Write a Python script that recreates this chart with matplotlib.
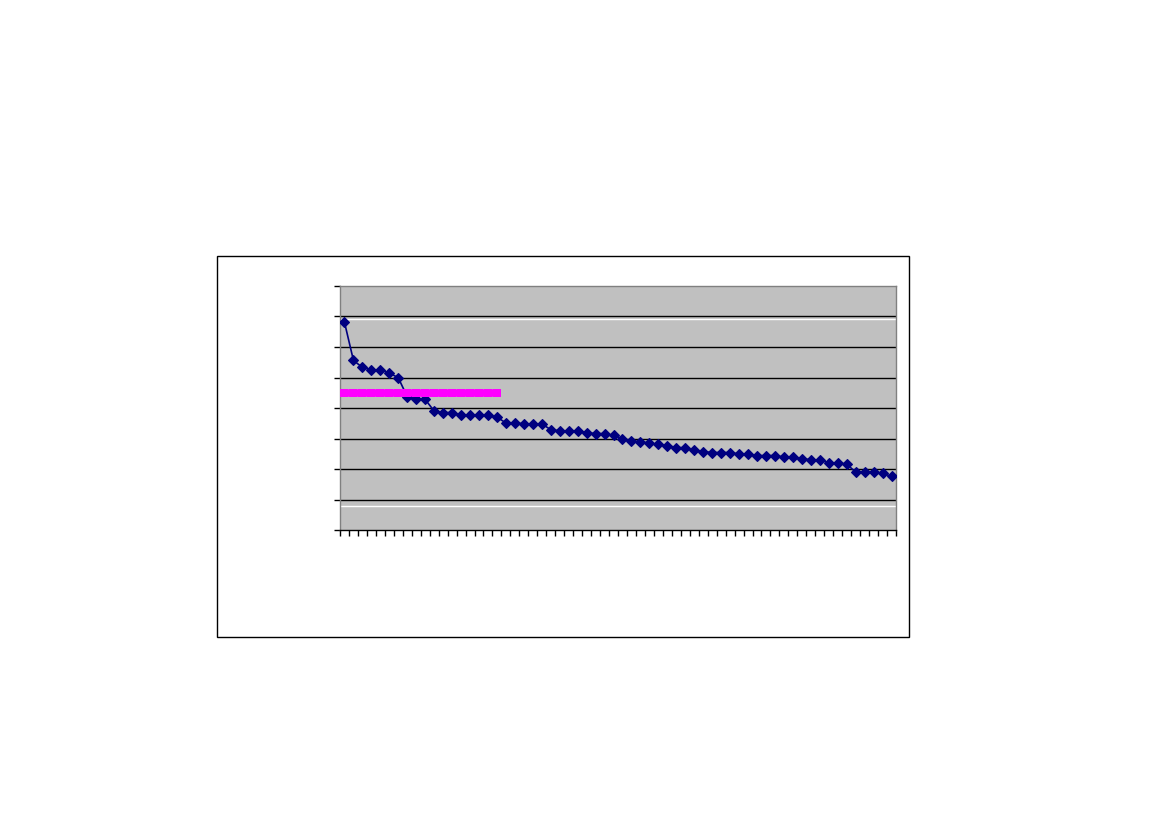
import matplotlib
matplotlib.use("Agg")
import matplotlib.pyplot as plt
from matplotlib.patches import Rectangle
import numpy as np

# Data (gridline units)
values = [6.81, 5.56, 5.33, 5.25, 5.25, 5.15, 4.99, 4.37, 4.28, 4.28,
          3.90, 3.85, 3.85, 3.77, 3.77, 3.77, 3.77, 3.70, 3.51, 3.51,
          3.48, 3.48, 3.48, 3.29, 3.25, 3.25, 3.25, 3.19, 3.16, 3.16,
          3.10, 3.00, 2.91, 2.90, 2.84, 2.81, 2.77, 2.70, 2.70, 2.61,
          2.57, 2.54, 2.54, 2.54, 2.49, 2.49, 2.44, 2.44, 2.44, 2.39,
          2.39, 2.34, 2.30, 2.30, 2.20, 2.20, 2.16, 1.90, 1.90, 1.90,
          1.86, 1.76]
categories = list(range(1, len(values) + 1))
ref_values = [4.49] * 18
ref_categories = categories[:18]
white_levels = [6.92, 0.78]
y_ticks = [0, 1, 2, 3, 4, 5, 6, 7, 8]

W, H = 1169, 826
fig = plt.figure(figsize=(W / 100, H / 100), dpi=100)
fig.patch.set_facecolor("white")

# outer chart border
fig.patches.append(Rectangle((217 / W, 1 - 637 / H), (909 - 217) / W, (637 - 256) / H,
                             transform=fig.transFigure, fill=False,
                             edgecolor="black", linewidth=1.0))

ax = fig.add_axes([340 / W, 1 - 530 / H, (896 - 340) / W, (530 - 286) / H])
ax.set_facecolor("#C0C0C0")

n = len(values)
ax.set_xlim(0.5, n + 0.5)
ax.set_ylim(y_ticks[0], y_ticks[-1])

for yv in y_ticks[1:-1]:
    ax.axhline(yv, color="black", linewidth=1.0, zorder=1)
for wl in white_levels:
    ax.axhline(wl, color="white", linewidth=1.0, zorder=1.5)

ax.plot(categories, values, color="#000080", linewidth=1.2, marker="D",
        markersize=5.6, markerfacecolor="#000080", markeredgecolor="#000080",
        markeredgewidth=0.8, zorder=3)
ax.plot(ref_categories, ref_values, color="#FF00FF", linewidth=5.4, marker="s",
        markersize=5.4, markerfacecolor="#FF00FF", markeredgecolor="#FF00FF",
        markeredgewidth=0, solid_capstyle="butt", zorder=4)

ax.set_yticks(y_ticks)
ax.set_yticklabels([])
ax.set_xticks(np.arange(0.5, n + 1.0, 1.0))
ax.set_xticklabels([])
ax.tick_params(axis="y", direction="out", length=4, width=1, color="black")
ax.tick_params(axis="x", direction="out", length=4, width=1, color="black")

for side in ["left", "top", "right"]:
    ax.spines[side].set_color("#808080")
    ax.spines[side].set_linewidth(1.0)
ax.spines["bottom"].set_color("black")
ax.spines["bottom"].set_linewidth(1.0)

fig.savefig("out.png", dpi=100)
